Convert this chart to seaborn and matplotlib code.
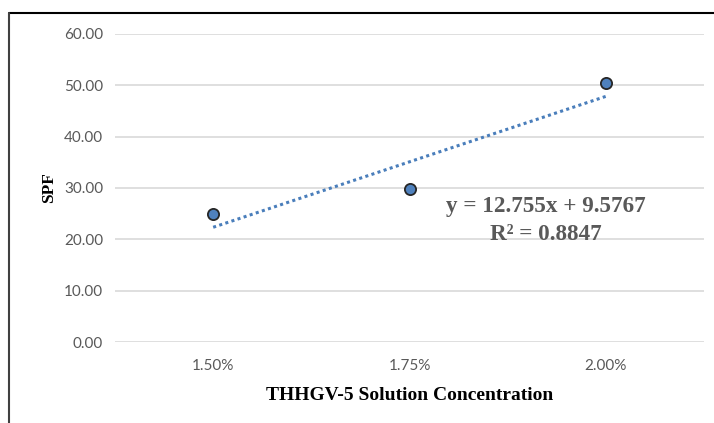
import matplotlib
matplotlib.use("Agg")
import matplotlib.pyplot as plt
from matplotlib.lines import Line2D
import seaborn as sns
import pandas as pd

categories = ["1.50%", "1.75%", "2.00%"]
positions = [1, 2, 3]
spf = [25.0, 29.8, 50.5]
y_ticks = [0, 10, 20, 30, 40, 50, 60]
eq_text = "y = 12.755x + 9.5767"
r2_text = "R² = 0.8847"

sns.set_theme(style="white")
plt.rcParams['font.family'] = ['Lato', 'DejaVu Sans']

df = pd.DataFrame({"pos": positions, "SPF": spf})

fig = plt.figure(figsize=(7.14, 4.23), dpi=100)
ax = fig.add_axes([115/714, 1-342/423, (704-115)/714, (342-34)/423])

ax.set_axisbelow(True)
for v in y_ticks:
    ax.axhline(v, color="#d9d9d9", lw=1.2, zorder=0)

sns.regplot(data=df, x="pos", y="SPF", ax=ax, scatter=False, ci=None, truncate=True,
            line_kws=dict(color="#4a7ebb", lw=2.2, linestyle=(0, (1, 1.1)), zorder=2))
sns.scatterplot(data=df, x="pos", y="SPF", ax=ax, s=65, color="#4f81bd",
                edgecolor="#262626", linewidth=1.3, zorder=3)

ax.set_xlim(0.5, 3.5)
ax.set_ylim(0, 60)
ax.set_xticks(positions)
ax.set_xticklabels(categories)
ax.set_yticks(y_ticks)
ax.set_yticklabels([f"{v:.2f}" for v in y_ticks])
ax.tick_params(axis="both", length=0, labelsize=11, labelcolor="#595959")
ax.tick_params(axis="y", pad=8.5)
ax.tick_params(axis="x", pad=12)
for s in ax.spines.values():
    s.set_visible(False)

ax.set_xlabel("THHGV-5 Solution Concentration", family=["Liberation Serif"],
              fontweight="bold", fontsize=14, color="black", labelpad=10.5)
ax.set_ylabel("SPF", family=["Liberation Serif"], fontweight="bold",
              fontsize=12.5, color="black", labelpad=5)

ax.text(2.695, 26.4, eq_text, ha="center", va="center", family=["Liberation Serif"],
        fontweight="bold", fontsize=16.7, color="#595959")
ax.text(2.695, 21.0, r2_text, ha="center", va="center", family=["Liberation Serif"],
        fontweight="bold", fontsize=16.7, color="#595959")

fig.add_artist(Line2D([9/714, 1], [1-13/423, 1-13/423], color="black", lw=1.5, transform=fig.transFigure))
fig.add_artist(Line2D([9/714, 9/714], [0, 1-13/423], color="#404040", lw=1.5, transform=fig.transFigure))

fig.savefig("out.png", dpi=100)
